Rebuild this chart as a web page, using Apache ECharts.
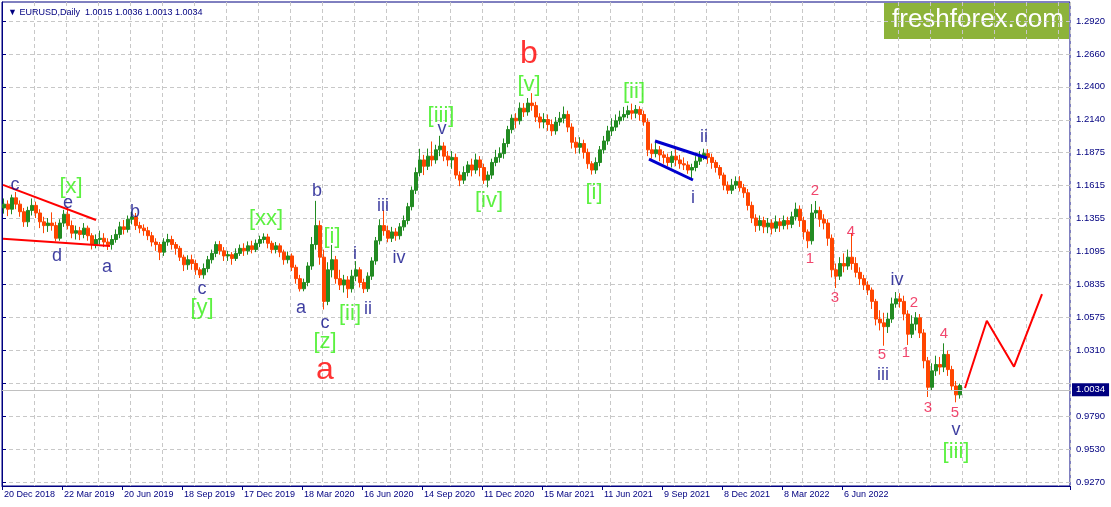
<!DOCTYPE html>
<html>
<head>
<meta charset="utf-8">
<script src="https://cdn.jsdelivr.net/npm/echarts@6/dist/echarts.min.js"></script>
<style>
html,body{margin:0;padding:0;background:#fff;}
#chart{width:1111px;height:507px;}
</style>
</head>
<body>
<div id="chart"></div>
<script>
// ---- DATA ----
const symbolTitle = 'EURUSD,Daily';
const lastBar = [1.0015, 1.0036, 1.0013, 1.0034]; // O H L C
const dateLabels = ['20 Dec 2018','22 Mar 2019','20 Jun 2019','18 Sep 2019','17 Dec 2019','18 Mar 2020','16 Jun 2020','14 Sep 2020','11 Dec 2020','15 Mar 2021','11 Jun 2021','9 Sep 2021','8 Dec 2021','8 Mar 2022','6 Jun 2022'];
const yTickLabels = ['0.9270','0.9530','0.9790','1.0050','1.0310','1.0575','1.0835','1.1095','1.1355','1.1615','1.1875','1.2140','1.2400','1.2660','1.2920'];
const slotCount = 267; // bar slots across the chart (price bars + empty right margin)
const categories = Array.from({length: slotCount}, (_, i) => String(i));
// candles: [open, close, low, high]
const candles = [
[1.1440,1.1470,1.1395,1.1515],[1.1470,1.1430,1.1375,1.1500],[1.1430,1.1520,1.1390,1.1545],[1.1520,1.1470,1.1430,1.1566],
[1.1470,1.1410,1.1370,1.1500],[1.1410,1.1330,1.1290,1.1440],[1.1330,1.1420,1.1290,1.1450],[1.1420,1.1460,1.1380,1.1515],
[1.1460,1.1400,1.1360,1.1490],[1.1400,1.1330,1.1280,1.1430],[1.1330,1.1300,1.1240,1.1370],[1.1300,1.1320,1.1250,1.1360],
[1.1320,1.1300,1.1260,1.1405],[1.1300,1.1200,1.1176,1.1330],[1.1200,1.1320,1.1180,1.1350],[1.1320,1.1390,1.1290,1.1425],
[1.1390,1.1300,1.1270,1.1448],[1.1300,1.1240,1.1200,1.1340],[1.1240,1.1260,1.1190,1.1300],[1.1260,1.1230,1.1185,1.1290],
[1.1230,1.1280,1.1200,1.1320],[1.1280,1.1220,1.1180,1.1300],[1.1220,1.1150,1.1111,1.1240],[1.1150,1.1190,1.1120,1.1230],
[1.1190,1.1200,1.1150,1.1260],[1.1200,1.1170,1.1130,1.1240],[1.1170,1.1150,1.1107,1.1200],[1.1150,1.1190,1.1110,1.1225],
[1.1190,1.1230,1.1165,1.1270],[1.1230,1.1290,1.1200,1.1330],[1.1290,1.1270,1.1230,1.1345],[1.1270,1.1350,1.1245,1.1380],
[1.1350,1.1370,1.1310,1.1412],[1.1370,1.1300,1.1265,1.1400],[1.1300,1.1280,1.1240,1.1330],[1.1280,1.1260,1.1220,1.1310],
[1.1260,1.1220,1.1185,1.1290],[1.1220,1.1170,1.1135,1.1250],[1.1170,1.1150,1.1100,1.1200],[1.1150,1.1090,1.1027,1.1170],
[1.1090,1.1170,1.1060,1.1200],[1.1170,1.1190,1.1140,1.1235],[1.1190,1.1150,1.1110,1.1220],[1.1150,1.1120,1.1070,1.1170],
[1.1120,1.1050,1.1020,1.1140],[1.1050,1.0990,1.0940,1.1070],[1.0990,1.1030,1.0950,1.1065],[1.1030,1.1000,1.0950,1.1070],
[1.1000,1.0950,1.0910,1.1030],[1.0950,1.0910,1.0885,1.0970],[1.0910,1.0960,1.0879,1.1000],[1.0960,1.1030,1.0930,1.1060],
[1.1030,1.1080,1.1000,1.1110],[1.1080,1.1150,1.1050,1.1175],[1.1150,1.1100,1.1070,1.1179],[1.1100,1.1060,1.1020,1.1130],
[1.1060,1.1070,1.1020,1.1100],[1.1070,1.1040,1.0990,1.1090],[1.1040,1.1080,1.1020,1.1120],[1.1080,1.1120,1.1060,1.1150],
[1.1120,1.1100,1.1060,1.1160],[1.1100,1.1140,1.1070,1.1175],[1.1140,1.1110,1.1080,1.1180],[1.1110,1.1160,1.1090,1.1190],
[1.1160,1.1190,1.1130,1.1220],[1.1190,1.1210,1.1160,1.1239],[1.1210,1.1160,1.1120,1.1235],[1.1160,1.1110,1.1080,1.1180],
[1.1110,1.1140,1.1080,1.1170],[1.1140,1.1090,1.1050,1.1160],[1.1090,1.1030,1.0990,1.1110],[1.1030,1.1060,1.1000,1.1095],
[1.1060,1.0970,1.0940,1.1080],[1.0970,1.0880,1.0840,1.0990],[1.0880,1.0800,1.0778,1.0910],[1.0800,1.0850,1.0780,1.0880],
[1.0850,1.0980,1.0820,1.1010],[1.0980,1.1150,1.0950,1.1210],[1.1150,1.1300,1.1110,1.1496],[1.1300,1.1050,1.0990,1.1340],
[1.1050,1.0700,1.0636,1.1110],[1.0700,1.0950,1.0670,1.1010],[1.0950,1.1030,1.0890,1.1147],[1.1030,1.0880,1.0840,1.1060],
[1.0880,1.0830,1.0790,1.0950],[1.0830,1.0870,1.0770,1.0910],[1.0870,1.0800,1.0727,1.0900],[1.0800,1.0900,1.0770,1.0950],
[1.0900,1.0950,1.0860,1.1019],[1.0950,1.0850,1.0810,1.0970],[1.0850,1.0800,1.0766,1.0880],[1.0800,1.0900,1.0775,1.0930],
[1.0900,1.1020,1.0870,1.1050],[1.1020,1.1180,1.0990,1.1210],[1.1180,1.1300,1.1150,1.1350],[1.1300,1.1260,1.1220,1.1422],
[1.1260,1.1200,1.1168,1.1300],[1.1200,1.1250,1.1170,1.1290],[1.1250,1.1220,1.1180,1.1280],[1.1220,1.1290,1.1190,1.1320],
[1.1290,1.1340,1.1260,1.1380],[1.1340,1.1450,1.1310,1.1480],[1.1450,1.1580,1.1420,1.1610],[1.1580,1.1720,1.1550,1.1760],
[1.1720,1.1820,1.1690,1.1908],[1.1820,1.1770,1.1700,1.1860],[1.1770,1.1850,1.1740,1.1910],[1.1850,1.1820,1.1770,1.1966],
[1.1820,1.1900,1.1790,1.1940],[1.1900,1.1930,1.1850,1.2011],[1.1930,1.1850,1.1810,1.1960],[1.1850,1.1820,1.1770,1.1890],
[1.1820,1.1840,1.1750,1.1890],[1.1840,1.1700,1.1670,1.1870],[1.1700,1.1660,1.1612,1.1730],[1.1660,1.1720,1.1630,1.1770],
[1.1720,1.1780,1.1690,1.1810],[1.1780,1.1740,1.1690,1.1830],[1.1740,1.1820,1.1710,1.1870],[1.1820,1.1760,1.1690,1.1850],
[1.1760,1.1660,1.1630,1.1790],[1.1660,1.1700,1.1603,1.1730],[1.1700,1.1800,1.1670,1.1830],[1.1800,1.1840,1.1770,1.1900],
[1.1840,1.1870,1.1800,1.1920],[1.1870,1.1950,1.1830,1.1990],[1.1950,1.2060,1.1920,1.2090],[1.2060,1.2150,1.2030,1.2180],
[1.2150,1.2130,1.2070,1.2190],[1.2130,1.2230,1.2100,1.2275],[1.2230,1.2200,1.2160,1.2270],[1.2200,1.2270,1.2170,1.2310],
[1.2270,1.2250,1.2210,1.2349],[1.2250,1.2160,1.2120,1.2280],[1.2160,1.2120,1.2070,1.2190],[1.2120,1.2140,1.2070,1.2190],
[1.2140,1.2100,1.2050,1.2180],[1.2100,1.2050,1.2010,1.2140],[1.2050,1.2120,1.2020,1.2160],[1.2120,1.2150,1.2090,1.2200],
[1.2150,1.2180,1.2110,1.2243],[1.2180,1.2080,1.2040,1.2210],[1.2080,1.1960,1.1910,1.2110],[1.1960,1.1920,1.1870,1.2000],
[1.1920,1.1950,1.1870,1.2000],[1.1950,1.1880,1.1830,1.1980],[1.1880,1.1790,1.1750,1.1910],[1.1790,1.1740,1.1704,1.1810],
[1.1740,1.1800,1.1710,1.1840],[1.1800,1.1900,1.1770,1.1930],[1.1900,1.1970,1.1870,1.2010],[1.1970,1.2050,1.1940,1.2090],
[1.2050,1.2080,1.2010,1.2150],[1.2080,1.2130,1.2050,1.2180],[1.2130,1.2160,1.2100,1.2210],[1.2160,1.2180,1.2130,1.2240],
[1.2180,1.2210,1.2150,1.2250],[1.2210,1.2190,1.2140,1.2266],[1.2190,1.2220,1.2150,1.2255],[1.2220,1.2180,1.2130,1.2245],
[1.2180,1.2120,1.2090,1.2210],[1.2120,1.1900,1.1850,1.2150],[1.1900,1.1870,1.1830,1.1950],[1.1870,1.1900,1.1840,1.1960],
[1.1900,1.1860,1.1810,1.1930],[1.1860,1.1840,1.1790,1.1890],[1.1840,1.1800,1.1770,1.1870],[1.1800,1.1850,1.1760,1.1890],
[1.1850,1.1820,1.1770,1.1909],[1.1820,1.1790,1.1750,1.1860],[1.1790,1.1780,1.1740,1.1840],[1.1780,1.1740,1.1710,1.1810],
[1.1740,1.1760,1.1677,1.1790],[1.1760,1.1810,1.1730,1.1850],[1.1810,1.1850,1.1780,1.1890],[1.1850,1.1870,1.1820,1.1909],
[1.1870,1.1840,1.1790,1.1905],[1.1840,1.1800,1.1750,1.1870],[1.1800,1.1760,1.1720,1.1820],[1.1760,1.1700,1.1670,1.1780],
[1.1700,1.1620,1.1580,1.1720],[1.1620,1.1580,1.1550,1.1650],[1.1580,1.1620,1.1550,1.1670],[1.1620,1.1650,1.1590,1.1690],
[1.1650,1.1600,1.1570,1.1692],[1.1600,1.1560,1.1520,1.1630],[1.1560,1.1460,1.1420,1.1590],[1.1460,1.1360,1.1320,1.1490],
[1.1360,1.1300,1.1250,1.1390],[1.1300,1.1340,1.1260,1.1380],[1.1340,1.1290,1.1240,1.1370],[1.1290,1.1320,1.1240,1.1360],
[1.1320,1.1280,1.1230,1.1350],[1.1280,1.1330,1.1250,1.1380],[1.1330,1.1300,1.1250,1.1360],[1.1300,1.1340,1.1270,1.1380],
[1.1340,1.1310,1.1270,1.1370],[1.1310,1.1370,1.1280,1.1410],[1.1370,1.1430,1.1340,1.1482],[1.1430,1.1340,1.1290,1.1460],
[1.1340,1.1250,1.1190,1.1370],[1.1250,1.1180,1.1121,1.1270],[1.1180,1.1400,1.1150,1.1470],[1.1400,1.1420,1.1360,1.1495],
[1.1420,1.1350,1.1290,1.1450],[1.1350,1.1320,1.1270,1.1390],[1.1320,1.1200,1.1140,1.1350],[1.1200,1.0950,1.0890,1.1230],
[1.0950,1.0900,1.0806,1.1000],[1.0900,1.1000,1.0870,1.1050],[1.1000,1.0980,1.0930,1.1080],[1.0980,1.1050,1.0950,1.1110],
[1.1050,1.1000,1.0950,1.1241],[1.1000,1.0930,1.0890,1.1050],[1.0930,1.0880,1.0830,1.0970],[1.0880,1.0830,1.0790,1.0910],
[1.0830,1.0790,1.0750,1.0860],[1.0790,1.0700,1.0640,1.0810],[1.0700,1.0560,1.0510,1.0720],[1.0560,1.0530,1.0470,1.0630],
[1.0530,1.0500,1.0349,1.0610],[1.0500,1.0560,1.0450,1.0610],[1.0560,1.0680,1.0530,1.0730],[1.0680,1.0720,1.0650,1.0774],
[1.0720,1.0700,1.0650,1.0765],[1.0700,1.0600,1.0550,1.0745],[1.0600,1.0440,1.0355,1.0630],[1.0440,1.0520,1.0410,1.0590],
[1.0520,1.0570,1.0470,1.0615],[1.0570,1.0450,1.0410,1.0600],[1.0450,1.0230,1.0170,1.0480],[1.0230,1.0020,0.9943,1.0260],
[1.0020,1.0150,0.9990,1.0210],[1.0150,1.0200,1.0110,1.0270],[1.0200,1.0180,1.0120,1.0260],[1.0180,1.0280,1.0140,1.0368],
[1.0280,1.0160,1.0110,1.0310],[1.0160,1.0030,0.9990,1.0190],[1.0030,0.9960,0.9901,1.0070],[0.9960,1.0034,0.9930,1.0050]
];
// wave-count annotations: [barSlot, price, text]
const navyLabels = [
[3.25,1.1622,'c'],[16.5,1.1479,'e'],[13.75,1.1059,'d'],[26.25,1.0972,'a'],[33.25,1.1408,'b'],[50,1.0798,'c'],
[74.75,1.0648,'a'],[78.75,1.1574,'b'],[80.75,1.0529,'c'],[95.25,1.1455,'iii'],[88.25,1.1075,'i'],[91.5,1.0640,'ii'],
[99.25,1.1044,'iv'],[110,1.2065,'v'],[175.5,1.2002,'ii'],[172.75,1.1519,'i'],[223.75,1.0869,'iv'],[220.25,1.0117,'iii'],
[238.5,0.9682,'v']
];
const greenLabels = [
[17.25,1.1606,'[x]'],[66,1.1352,'[xx]'],[50,1.0648,'[y]'],[80.75,1.0378,'[z]'],[82.5,1.1210,'[i]'],[87,1.0600,'[ii]'],
[109.75,1.2168,'[iii]'],[121.75,1.1495,'[iv]'],[131.75,1.2413,'[v]'],[148,1.1558,'[i]'],[158,1.2358,'[ii]'],[238.5,0.9508,'[iii]']
];
const redLabels = [[80.75,1.0157,'a'],[131.75,1.2659,'b']];
const digitLabels = [
[202,1.1036,'1'],[203.25,1.1574,'2'],[208.25,1.0727,'3'],[212.25,1.1249,'4'],[220,1.0276,'5'],
[226,1.0291,'1'],[228,1.0687,'2'],[231.5,0.9856,'3'],[235.5,1.0442,'4'],[238.25,0.9816,'5']
];
// trend lines: [barSlot, price]
const triangleUpper = [[0.25,1.1622],[23.5,1.1344]];
const triangleLower = [[0.25,1.1196],[27,1.1139]];
const channelUpper = [[163.25,1.1970],[176.25,1.1835]];
const channelLower = [[161.75,1.1827],[172.75,1.1661]];
const projection = [[240.75,1.0014],[246.2,1.0547],[253,1.0183],[260,1.0758]];
const currentPrice = 1.0034;

// ---- CHART ----
const NAVY = '#000080';
const FONT = 'Liberation Sans, Arial, sans-serif';
const yLow = 0.9270, yHigh = 1.2920;
const yStep = (yHigh - yLow) / (yTickLabels.length - 1);
const yTickValues = yTickLabels.map((_, k) => yLow + k * yStep);
const pxPerUnit = 461 / (yHigh - yLow);

function labelSeries(items, color, size) {
  return {
    type: 'scatter', xAxisIndex: 1, yAxisIndex: 0, silent: true, animation: false,
    symbolSize: 1, itemStyle: {color: 'transparent'},
    data: items.map(d => ({value: [d[0], d[1]], name: d[2]})),
    label: {show: true, position: 'inside', formatter: '{b}', color: color, fontSize: size, fontFamily: FONT},
    emphasis: {disabled: true}, z: 5
  };
}
function lineSeries(points, color, width) {
  return {
    type: 'line', xAxisIndex: 1, yAxisIndex: 0, data: points, symbol: 'none', silent: true,
    animation: false, lineStyle: {color: color, width: width}, z: 4
  };
}

const chart = echarts.init(document.getElementById('chart'), null, {renderer: 'canvas'});
chart.setOption({
  animation: false,
  backgroundColor: '#ffffff',
  title: {
    text: '\u25BC ' + symbolTitle + '  ' + lastBar.map(v => v.toFixed(4)).join(' '),
    left: 3, top: 3,
    textStyle: {fontSize: 9, color: NAVY, fontWeight: 'normal', fontFamily: FONT}
  },
  grid: {left: 2, right: 41, top: 2, bottom: 21, show: true, borderColor: NAVY, borderWidth: 1,
         backgroundColor: '#ffffff', containLabel: false, outerBoundsMode: 'none'},
  xAxis: [{
    type: 'category', data: categories, boundaryGap: true, position: 'bottom',
    axisLine: {show: true, lineStyle: {color: NAVY, width: 1}},
    axisTick: {show: true, length: 4, lineStyle: {color: NAVY},
               interval: (i) => i % 15 === 0 && i / 15 < dateLabels.length},
    axisLabel: {show: true, interval: (i) => i % 15 === 0 && i / 15 < dateLabels.length,
                formatter: (v, i) => (i % 15 === 0 && dateLabels[i / 15]) ? dateLabels[i / 15] : '',
                align: 'left', color: NAVY, fontSize: 9, fontFamily: FONT, margin: 4},
    splitLine: {show: true, interval: (i) => i > 0 && i % 8 === 0,
                lineStyle: {color: '#c8c8c8', type: [4, 3], width: 1}}
  }, {
    type: 'value', min: 0, max: slotCount, show: false,
    axisLine: {show: false}, axisTick: {show: false}, axisLabel: {show: false}, splitLine: {show: false}
  }],
  yAxis: [{
    type: 'value', position: 'right', scale: true,
    min: yLow - 4 / pxPerUnit, max: yHigh + 19 / pxPerUnit,
    axisLine: {show: true, lineStyle: {color: NAVY, width: 1}},
    axisTick: {show: true, length: 4, lineStyle: {color: NAVY}, customValues: yTickValues},
    axisLabel: {show: true, customValues: yTickValues, color: NAVY, fontSize: 9.5, fontFamily: FONT, margin: 6,
                formatter: (v) => Math.abs(v - currentPrice) < 0.006 ? '' : (yTickLabels[Math.round((v - yLow) / yStep)] || '')},
    splitLine: {show: true, lineStyle: {color: '#c8c8c8', type: [4, 3], width: 1}}
  }],
  graphic: [{
    type: 'group', left: 884, top: 3, z: 20,
    children: [
      {type: 'rect', shape: {x: 0, y: 0, width: 185, height: 36}, style: {fill: '#8db33a'}},
      {type: 'text', x: 8, y: 4, style: {text: 'freshforex.com', fill: '#ffffff', font: '26px ' + FONT}}
    ]
  }],
  series: [{
    type: 'candlestick', xAxisIndex: 0, yAxisIndex: 0, data: candles, barWidth: 3, silent: true,
    itemStyle: {color: '#228b22', color0: '#ff4500', borderColor: '#228b22', borderColor0: '#ff4500', borderWidth: 1},
    z: 3,
    markLine: {
      silent: true, symbol: ['none', 'none'], animation: false,
      data: [{yAxis: currentPrice}],
      lineStyle: {color: '#c0c0c0', type: 'solid', width: 1},
      label: {show: true, position: 'end', formatter: currentPrice.toFixed(4), backgroundColor: NAVY, color: '#ffffff',
              fontSize: 9.5, fontFamily: FONT, padding: [2, 4, 1, 4], distance: 2, verticalAlign: 'middle', lineHeight: 10}
    }
  },
  lineSeries(triangleUpper, '#ff0000', 2),
  lineSeries(triangleLower, '#ff0000', 2),
  lineSeries(channelUpper, '#0000cd', 3),
  lineSeries(channelLower, '#0000cd', 3),
  lineSeries(projection, '#ff0000', 2),
  labelSeries(navyLabels, '#0c0c88', 18),
  labelSeries(greenLabels, '#33ee11', 22),
  labelSeries(redLabels, '#ff0000', 32),
  labelSeries(digitLabels, '#ee1848', 15)
  ]
});
</script>
</body>
</html>
